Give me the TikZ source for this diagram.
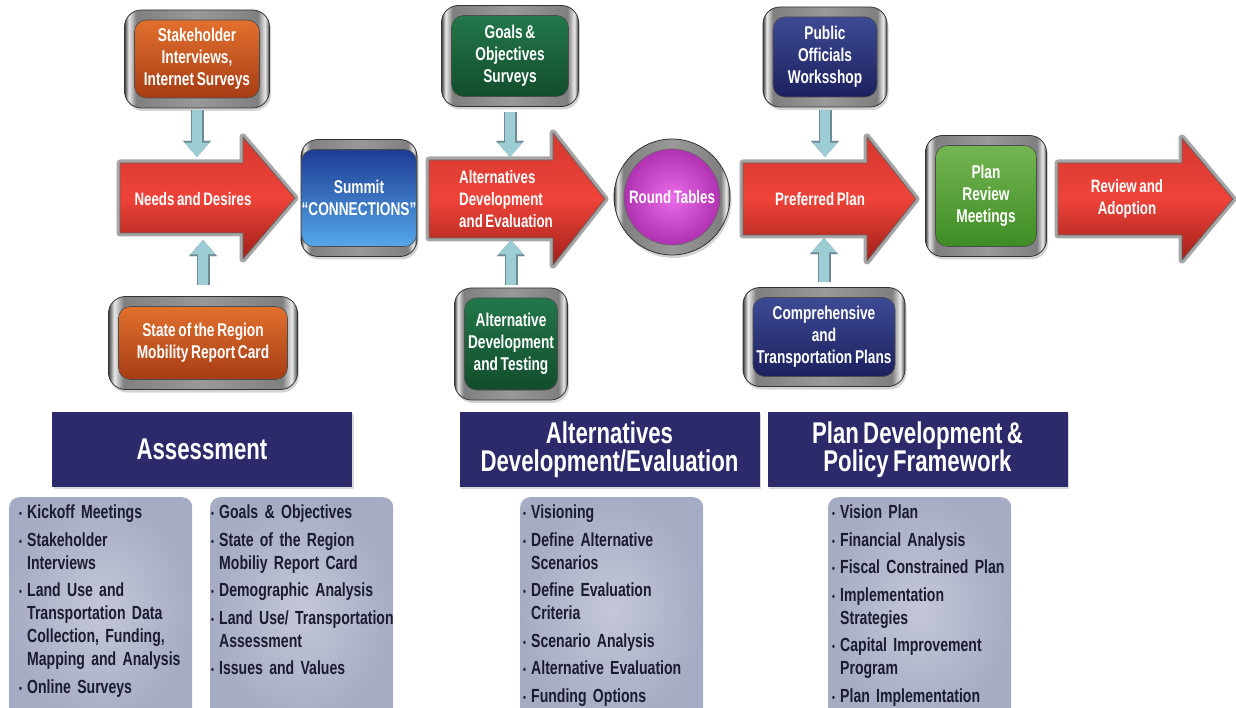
\documentclass[tikz,border=0pt]{standalone}
\usepackage{fontspec}
\setmainfont{Liberation Sans}[FakeStretch=0.74, WordSpace=0.7]
\usetikzlibrary{arrows.meta,shadows}
\definecolor{hdrnavy}{HTML}{2C2A6A}
\definecolor{orgT}{HTML}{E2702E}
\definecolor{orgB}{HTML}{A63C14}
\definecolor{bluT}{HTML}{1E3C94}
\definecolor{bluB}{HTML}{55A8EA}
\definecolor{grnT}{HTML}{23774A}
\definecolor{grnB}{HTML}{124D2C}
\definecolor{navT}{HTML}{3E4A94}
\definecolor{navB}{HTML}{1C215E}
\definecolor{lgrT}{HTML}{74B552}
\definecolor{lgrB}{HTML}{3E8C24}
\definecolor{magI}{HTML}{EA6CEA}
\definecolor{magO}{HTML}{B032B0}
\definecolor{redT}{HTML}{D5382F}
\definecolor{redM}{HTML}{EE4339}
\definecolor{redB}{HTML}{A02019}
\definecolor{tealA}{HTML}{9CCDD4}
\definecolor{tealE}{HTML}{6F8C92}
\definecolor{listO}{HTML}{A6ACC3}
\definecolor{listI}{HTML}{C3C7D7}
\definecolor{listtxt}{HTML}{1C1C30}
\pgfdeclarehorizontalshading{metal}{100bp}{color(0bp)=(black!75); color(25bp)=(black!75); color(26.5bp)=(black!8); color(29bp)=(black!50); color(50bp)=(black!40); color(71bp)=(black!50); color(73.5bp)=(black!8); color(75bp)=(black!75); color(100bp)=(black!75)}
\newcommand\itm[1]{\par\hangindent=8pt\hangafter=1\noindent\makebox[8pt][l]{\raisebox{1pt}{\fontsize{11}{11}\selectfont •}}#1}
\newcommand\bez[7]{%
  \node[bezel, minimum width=#4pt, minimum height=#5pt] (#1bz) at (#2,#3) {};
  \node[#6, minimum width=#4pt-20pt, minimum height=#5pt-20pt] (#1) at (#2,#3) {#7};}
\newcommand\bigarr[6]{%
  \path[redarrow] ({#1},{#4-#6}) -- ({#2},{#4-#6}) -- ({#2},{#4-#5}) -- ({#3},{#4}) -- ({#2},{#4+#5}) -- ({#2},{#4+#6}) -- ({#1},{#4+#6}) -- cycle;}
\tikzset{
  bezel/.style={rounded corners=17pt, shading=metal, draw=black!80, line width=0.8pt, inner sep=0pt,
    drop shadow={opacity=0.35, shadow xshift=1.5pt, shadow yshift=-3pt}},
  face/.style={rounded corners=12pt, draw=black!70, line width=0.6pt, text=white, align=center,
    font=\bfseries\fontsize{18.5}{22}\selectfont, inner sep=0pt},
  orangeF/.style={face, top color=orgT, bottom color=orgB},
  blueF/.style={face, top color=bluT, bottom color=bluB},
  greenF/.style={face, top color=grnT, bottom color=grnB},
  navyF/.style={face, top color=navT, bottom color=navB},
  lgreenF/.style={face, top color=lgrT, bottom color=lgrB},
  redarrow/.style={line join=round, draw=black!60, line width=0.8pt,
    preaction={draw=black!35, line width=7pt, line join=round},
    top color=redT, bottom color=redB, middle color=redM},
  arrtxt/.style={text=white, align=center, inner sep=0pt, font=\bfseries\fontsize{18}{22}\selectfont},
  conn/.style={draw=tealA, line width=10pt, -{Triangle[width=24pt,length=14pt,line width=0.1pt]},
    preaction={draw=tealE, line width=13pt, -{Triangle[width=28pt,length=16pt,line width=0.1pt]}}},
  hdr/.style={fill=hdrnavy, text=white, align=center, inner sep=0pt, minimum width=300pt, minimum height=75pt,
    font=\bfseries\fontsize{30}{28}\selectfont, drop shadow={opacity=0.3, shadow xshift=1.5pt, shadow yshift=-2pt}},
  listbox/.style={rounded corners=10pt, inner color=listI, outer color=listO, anchor=north west,
    minimum width=183pt, minimum height=225pt, inner sep=0pt},
  listtext/.style={anchor=north west, inner sep=0pt, text=listtxt, align=left, text width=190pt,
    font=\bfseries\fontsize{19}{23}\selectfont\setlength{\parskip}{4.5pt}}
}
\begin{document}
\begin{tikzpicture}[x=1pt,y=-1pt]
\useasboundingbox (0,0) rectangle (1236,708);
\clip (0,0) rectangle (1236,708);
% big red arrows
\bigarr{120}{243}{295}{198}{61}{35}
\node[arrtxt, minimum height=70pt] (needs) at (193,199) {Needs and Desires};
\bigarr{429}{553}{605}{199}{66}{39}
\node[arrtxt, align=left, anchor=west, minimum height=78pt] (altdev) at (459,199) {Alternatives\\Development\\and Evaluation};
\bigarr{743}{867}{916}{199}{62}{36}
\node[arrtxt, minimum height=72pt] (pref) at (820,199) {Preferred Plan};
\bigarr{1058}{1182}{1233}{199}{61}{36}
\node[arrtxt, minimum height=72pt] (review) at (1127,199) {Review and\\Adoption};
% boxes
\bez{stake}{197}{59}{145}{98}{orangeF}{Stakeholder\\Interviews,\\Internet Surveys}
\bez{summit}{359}{198}{116}{117}{blueF}{Summit\\“CONNECTIONS”}
\bez{region}{203}{343}{189}{93}{orangeF}{State of the Region\\Mobility Report Card}
\bez{goals}{510}{56}{137}{101}{greenF}{Goals \&\\Objectives\\Surveys}
\bez{alttest}{511}{344}{113}{112}{greenF}{Alternative\\Development\\and Testing}
\bez{public}{825}{57}{124}{100}{navyF}{Public\\Officials\\Worksshop}
\bez{comp}{824}{337}{162}{99}{navyF}{Comprehensive\\and\\Transportation Plans}
\bez{planrev}{986}{196}{121}{121}{lgreenF}{Plan\\Review\\Meetings}
\node[bezel, circle, minimum size=116pt] (roundbz) at (672,197) {};
\node[circle, inner color=magI, outer color=magO, draw=black!60, line width=0.6pt, text=white, minimum size=96pt,
  inner sep=0pt, font=\bfseries\fontsize{18}{22}\selectfont] (round) at (672,197) {Round Tables};
% small connectors
\draw[conn, shorten <=2pt, shorten >=7pt] (stakebz.south) -- (stakebz.south |- needs.north);
\draw[conn, shorten <=11pt, shorten >=6pt] (regionbz.north) -- (regionbz.north |- needs.south);
\draw[conn, shorten <=5pt, shorten >=3pt] (goalsbz.south) -- (goalsbz.south |- altdev.north);
\draw[conn, shorten <=3pt, shorten >=2pt] (alttestbz.north) -- (alttestbz.north |- altdev.south);
\draw[conn, shorten <=3pt, shorten >=6pt] (publicbz.south) -- (publicbz.south |- pref.north);
\draw[conn, shorten <=5pt, shorten >=3pt] (compbz.north) -- (compbz.north |- pref.south);
% headers
\node[hdr] (hassess) at (202,449.5) {Assessment};
\node[hdr] (halt) at (609.5,449.5) {Alternatives\\Development/Evaluation};
\node[hdr] (hplan) at (917.5,449.5) {Plan Development \&\\Policy Framework};
% list boxes
\node[listbox] (l1) at (9,497) {};
\node[listbox] (l2) at (210,497) {};
\node[listbox] (l3) at (520,497) {};
\node[listbox] (l4) at (828,497) {};
\node[listtext] (t1) at (19,491) {\itm{Kickoff Meetings}\itm{Stakeholder\newline Interviews}\itm{Land Use and\newline Transportation Data\newline Collection, Funding,\newline Mapping and Analysis}\itm{Online Surveys}};
\node[listtext] (t2) at (211,491) {\itm{Goals \& Objectives}\itm{State of the Region\newline Mobiliy Report Card}\itm{Demographic Analysis}\itm{Land Use/ Transportation\newline Assessment}\itm{Issues and Values}};
\node[listtext] (t3) at (523,491) {\itm{Visioning}\itm{Define Alternative\newline Scenarios}\itm{Define Evaluation\newline Criteria}\itm{Scenario Analysis}\itm{Alternative Evaluation}\itm{Funding Options}};
\node[listtext] (t4) at (832,491) {\itm{Vision Plan}\itm{Financial Analysis}\itm{Fiscal Constrained Plan}\itm{Implementation\newline Strategies}\itm{Capital Improvement\newline Program}\itm{Plan Implementation}};
\end{tikzpicture}
\end{document}
